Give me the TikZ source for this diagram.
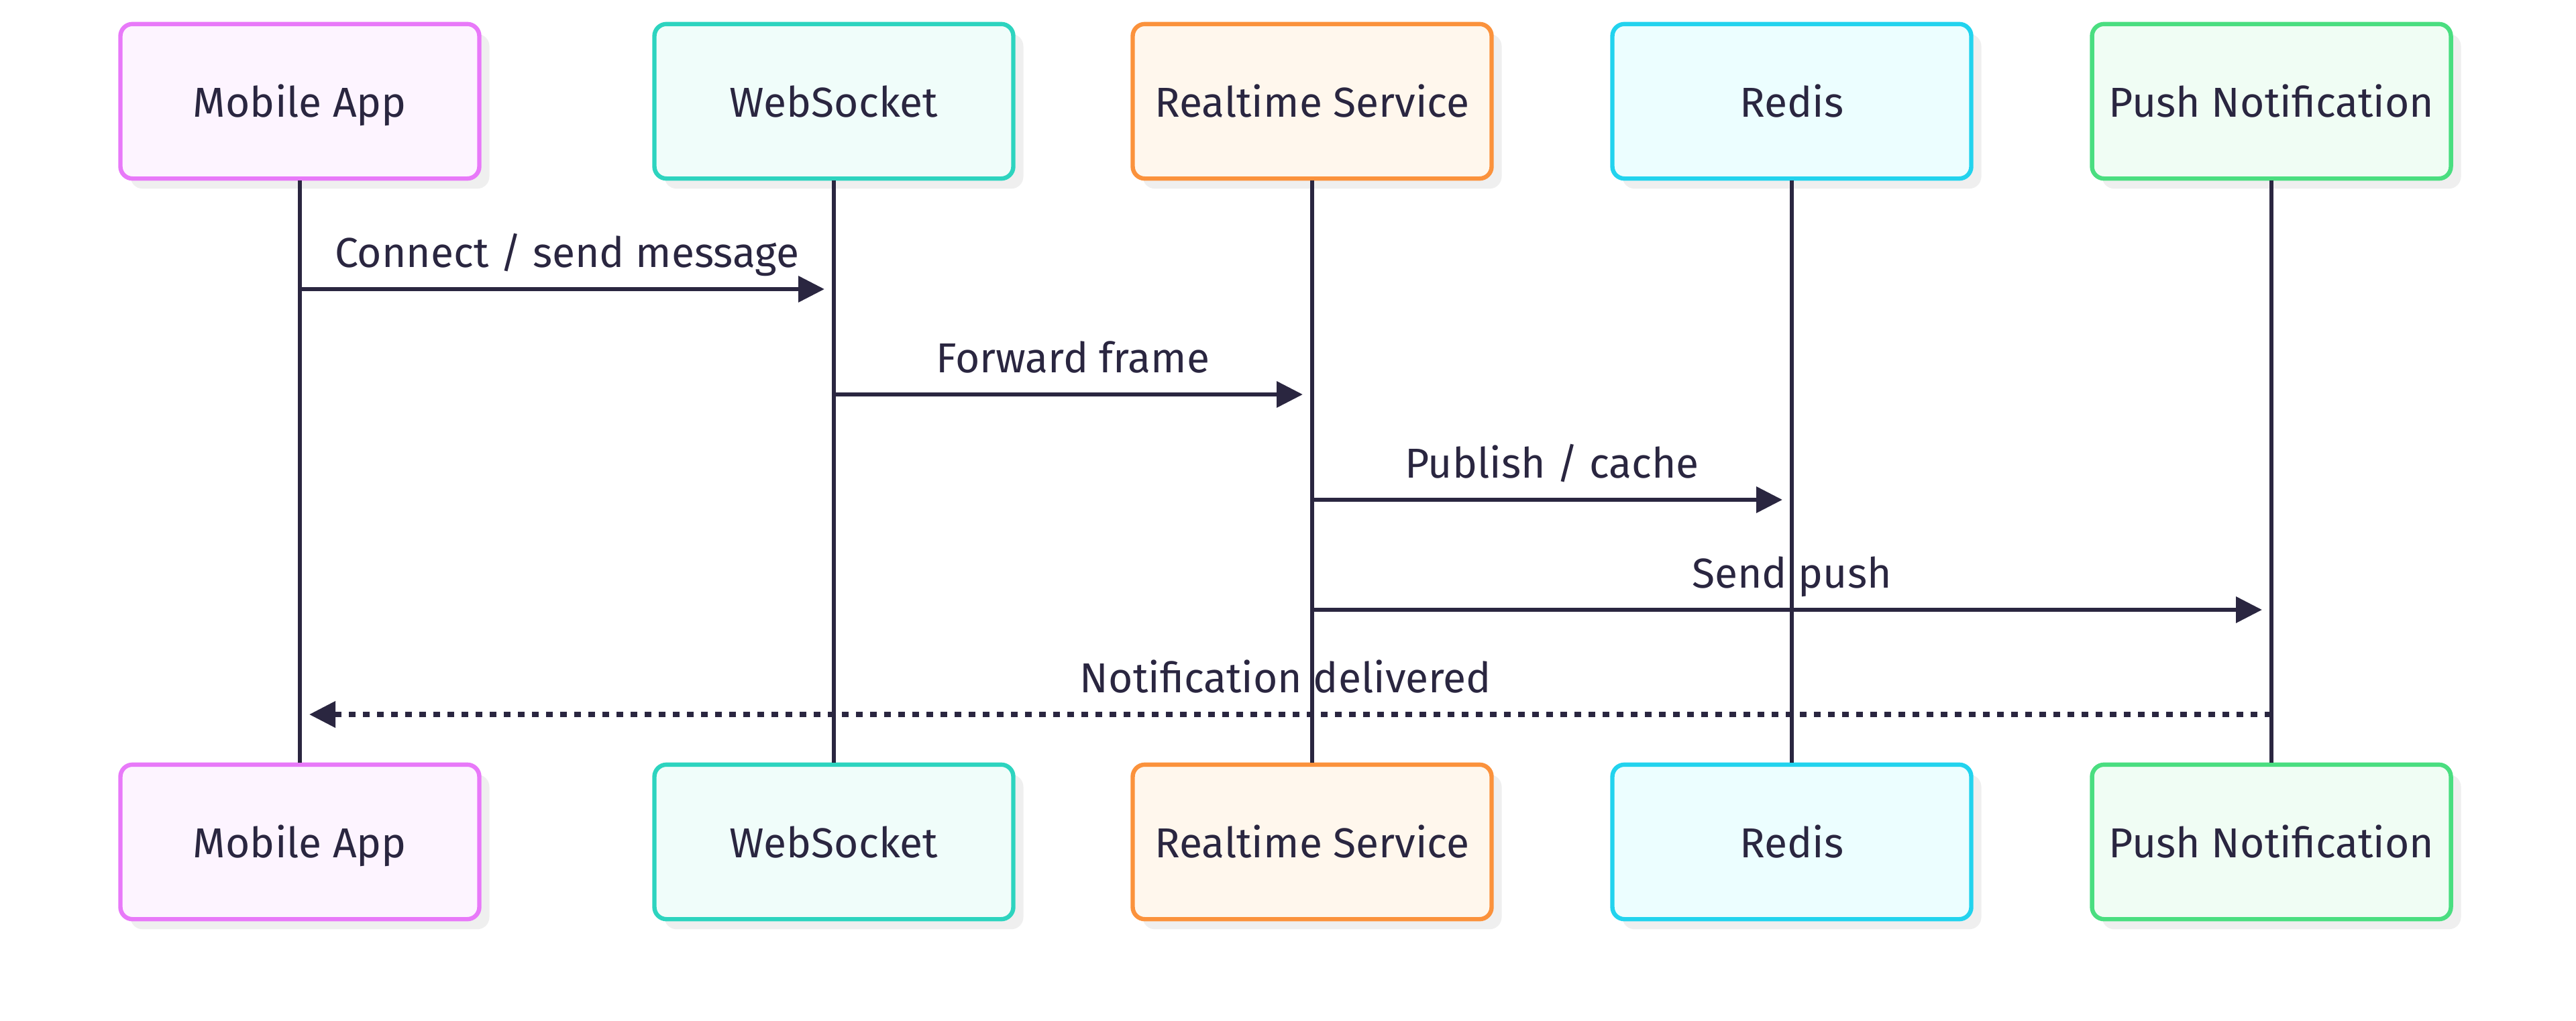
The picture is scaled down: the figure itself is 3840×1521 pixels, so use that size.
\documentclass[tikz,border=0pt]{standalone}
\usepackage{fontspec}
\setmainfont{Fira Sans}
\usetikzlibrary{arrows.meta,shadows}
\definecolor{ink}{HTML}{2A2640}
\definecolor{shadowc}{HTML}{EFEFEF}
\definecolor{cA}{HTML}{E879F9}\definecolor{fA}{HTML}{FDF4FF}
\definecolor{cB}{HTML}{2DD4BF}\definecolor{fB}{HTML}{F0FDFA}
\definecolor{cC}{HTML}{FB923C}\definecolor{fC}{HTML}{FFF7ED}
\definecolor{cD}{HTML}{22D3EE}\definecolor{fD}{HTML}{ECFEFF}
\definecolor{cE}{HTML}{4ADE80}\definecolor{fE}{HTML}{F0FDF4}
\begin{document}
\begin{tikzpicture}[x=0.25pt,y=-0.25pt,
  font=\fontsize{15.6}{18}\selectfont,
  actor/.style={draw, rounded corners=4.5pt, line width=1.6pt,
    minimum width=133.75pt, minimum height=57.6pt, inner sep=0pt, text=ink,
    text height=11.5pt, text depth=0pt,
    drop shadow={shadow xshift=3.75pt, shadow yshift=-3.75pt, fill=shadowc, opacity=1}},
  life/.style={draw=ink, line width=1.7pt},
  msg/.style={draw=ink, line width=1.7pt, shorten >=3.5pt,
    -{Triangle[length=9.75pt,width=9.5pt]}},
  dotmsg/.style={msg, line width=1.8pt, dash pattern=on 2.6pt off 2.65pt},
  lbl/.style={text=ink, anchor=base, yshift=8.25pt}]
\useasboundingbox (0,0) rectangle (3840,1521);
\fill[white] (0,0) rectangle (3840,1521);
% actors top
\node[actor, draw=cA, fill=fA] (t1) at (447,151) {Mobile App};
\node[actor, draw=cB, fill=fB] (t2) at (1243,151) {WebSocket};
\node[actor, draw=cC, fill=fC] (t3) at (1956,151) {Realtime Service};
\node[actor, draw=cD, fill=fD] (t4) at (2671,151) {Redis};
\node[actor, draw=cE, fill=fE] (t5) at (3386,151) {Push Notification};
% actors bottom
\node[actor, draw=cA, fill=fA] (b1) at (447,1255) {Mobile App};
\node[actor, draw=cB, fill=fB] (b2) at (1243,1255) {WebSocket};
\node[actor, draw=cC, fill=fC] (b3) at (1956,1255) {Realtime Service};
\node[actor, draw=cD, fill=fD] (b4) at (2671,1255) {Redis};
\node[actor, draw=cE, fill=fE] (b5) at (3386,1255) {Push Notification};
% lifelines
\foreach \i in {1,...,5} {\draw[life] (t\i.south) -- (b\i.north);}
% message anchors
\coordinate (m1a) at (447,431);  \coordinate (m1b) at (1243,431);
\coordinate (m2a) at (1243,588); \coordinate (m2b) at (1956,588);
\coordinate (m3a) at (1956,745); \coordinate (m3b) at (2671,745);
\coordinate (m4a) at (1956,909); \coordinate (m4b) at (3386,909);
\coordinate (m5a) at (3386,1065); \coordinate (m5b) at (447,1065);
% messages
\draw[msg] (m1a) -- (m1b);
\path (m1a) -- (m1b) node[lbl, pos=0.5] {Connect / send message};
\draw[msg] (m2a) -- (m2b);
\path (m2a) -- (m2b) node[lbl, pos=0.5] {Forward frame};
\draw[msg] (m3a) -- (m3b);
\path (m3a) -- (m3b) node[lbl, pos=0.5] {Publish / cache};
\draw[msg] (m4a) -- (m4b);
\path (m4a) -- (m4b) node[lbl, pos=0.5] {Send push};
\draw[dotmsg] (m5a) -- (m5b);
\path (m5a) -- (m5b) node[lbl, pos=0.5] {Notification delivered};
\end{tikzpicture}
\end{document}
